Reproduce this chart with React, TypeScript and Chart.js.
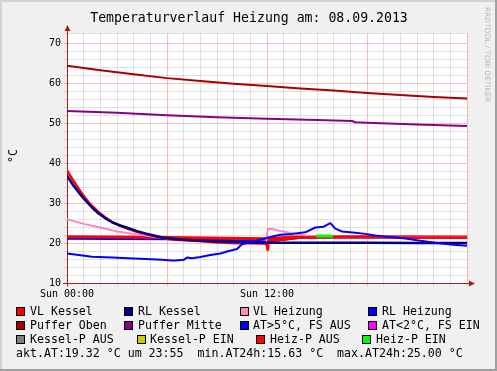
import React, { useEffect, useRef } from 'react';
import { Chart, registerables } from 'chart.js';

Chart.register(...registerables);

const W = 497;
const H = 371;
const MONO = '"DejaVu Sans Mono", monospace';

const TITLE = 'Temperaturverlauf Heizung am: 08.09.2013';
const Y_LABEL = '°C';
const WATERMARK = 'RRDTOOL / TOBI OETIKER';
const X_TICK_LABELS: Record<number, string> = { 0: 'Sun 00:00', 12: 'Sun 12:00' };

// Series (hours since 00:00, °C)
const pufferObenT = [0, 2, 4, 6, 8, 10, 12, 14, 16, 18, 20, 22, 24];
const pufferObenV = [64.4, 63.3, 62.3, 61.3, 60.6, 59.9, 59.3, 58.7, 58.2, 57.6, 57.1, 56.6, 56.2];

const pufferMitteT = [0, 3, 6, 9, 12, 15, 17.1, 17.3, 18, 21, 24];
const pufferMitteV = [53.1, 52.6, 52.0, 51.5, 51.1, 50.8, 50.55, 50.25, 50.15, 49.7, 49.3];

const vlKesselT = [0, 0.35, 0.7, 1.0, 1.3, 1.6, 1.9, 2.3, 2.7, 3.2, 3.7, 4.2, 4.7, 5.2, 5.7, 6.3, 7, 8, 9, 10, 11, 11.95, 12.05, 12.12, 12.25, 12.6, 13, 14, 16, 18, 20, 22, 24];
const vlKesselV = [38.2, 35.8, 33.6, 31.8, 30.2, 28.9, 27.7, 26.4, 25.3, 24.3, 23.5, 22.8, 22.3, 21.8, 21.3, 20.9, 20.7, 20.5, 20.2, 20.0, 20.0, 19.9, 18.3, 21.3, 20.7, 20.7, 20.9, 21.4, 21.5, 21.5, 21.4, 21.4, 21.4];

const rlKesselT = [0, 0.35, 0.7, 1.0, 1.3, 1.6, 1.9, 2.3, 2.7, 3.2, 3.7, 4.2, 4.7, 5.2, 5.7, 6.5, 7.5, 9, 10.5, 12, 15, 18, 21, 24];
const rlKesselV = [36.9, 34.6, 32.7, 31.2, 29.8, 28.5, 27.4, 26.2, 25.2, 24.4, 23.7, 23.0, 22.4, 21.9, 21.4, 21.0, 20.7, 20.4, 20.2, 20.1, 20.1, 20.05, 20.0, 20.0];

const vlHeizungT = [0, 1, 2, 3, 4, 5, 6, 7, 8, 9, 10, 11, 11.95, 12.05, 12.3, 12.6, 13.4, 14.5, 16, 20, 24];
const vlHeizungV = [26.0, 24.8, 23.9, 22.9, 22.3, 21.7, 21.2, 20.8, 20.4, 20.1, 19.9, 19.8, 19.8, 23.6, 23.5, 23.2, 22.5, 21.8, 21.6, 21.5, 21.5];

const rlHeizungT = [0, 3, 6, 8, 10, 11.5, 12, 13, 14, 16, 20, 24];
const rlHeizungV = [21.05, 21.0, 20.95, 20.9, 20.7, 20.5, 20.4, 20.8, 21.3, 21.4, 21.4, 21.4];

const atT = [0, 0.7, 1.5, 2.7, 3.7, 4.7, 5.7, 6.3, 6.5, 7.0, 7.2, 7.5, 8.0, 8.6, 9.2, 9.6, 10.2, 10.5, 11.0, 11.5, 12.0, 12.4, 12.8, 13.5, 14.3, 14.9, 15.4, 15.8, 16.1, 16.5, 17.3, 17.9, 18.5, 19.2, 20.2, 21.2, 22.2, 23.2, 24];
const atV = [17.4, 17.0, 16.6, 16.4, 16.2, 16.0, 15.8, 15.65, 15.63, 15.8, 16.4, 16.2, 16.5, 17.0, 17.4, 17.9, 18.5, 19.7, 20.2, 20.7, 21.3, 21.7, 22.1, 22.3, 22.7, 23.9, 24.1, 25.0, 23.6, 22.9, 22.6, 22.3, 21.9, 21.6, 21.2, 20.6, 20.0, 19.6, 19.32];

const heizPAusT = [0, 5, 12, 13.5, 18, 24];
const heizPAusV = [21.6, 21.45, 21.1, 21.5, 21.6, 21.5];

const heizPEinT = [14.96, 15.96];
const heizPEinV = [21.75, 21.75];

// Legend
const legendRows: { x: number; tx: number; color: string; label: string }[][] = [
  [
    { x: 16, tx: 30, color: '#ff0000', label: 'VL Kessel' },
    { x: 124, tx: 138, color: '#000080', label: 'RL Kessel' },
    { x: 240, tx: 253, color: '#ff88bb', label: 'VL Heizung' },
    { x: 368, tx: 382, color: '#0000ff', label: 'RL Heizung' },
  ],
  [
    { x: 16, tx: 30, color: '#aa0000', label: 'Puffer Oben' },
    { x: 124, tx: 138, color: '#880088', label: 'Puffer Mitte' },
    { x: 240, tx: 253, color: '#0000ff', label: 'AT>5°C, FS AUS' },
    { x: 368, tx: 382, color: '#ff00ff', label: 'AT<2°C, FS EIN' },
  ],
  [
    { x: 16, tx: 30, color: '#808080', label: 'Kessel-P AUS' },
    { x: 137, tx: 150, color: '#cccc00', label: 'Kessel-P EIN' },
    { x: 256, tx: 270, color: '#ff0000', label: 'Heiz-P AUS' },
    { x: 362, tx: 376, color: '#00ff00', label: 'Heiz-P EIN' },
  ],
];
const STATS_LINE = 'akt.AT:19.32 °C um 23:55  min.AT24h:15.63 °C  max.AT24h:25.00 °C';

const pts = (t: number[], v: number[]) => t.map((x, i) => ({ x, y: v[i] }));

const MAJOR = 'rgba(255,0,0,0.25)';
const MINOR = 'rgba(128,128,128,0.24)';
const AXIS = '#992222';

const deco = {
  id: 'deco',
  beforeDraw(chart: any) {
    const ctx = chart.ctx as CanvasRenderingContext2D;
    const { left, top, right, bottom } = chart.chartArea;
    ctx.save();
    ctx.fillStyle = '#f0f0f0';
    ctx.fillRect(0, 0, W, H);
    ctx.fillStyle = '#d2d2d2';
    ctx.fillRect(0, 0, W, 2);
    ctx.fillRect(0, 0, 2, H);
    ctx.fillStyle = '#a0a0a0';
    ctx.fillRect(0, H - 2, W, 2);
    ctx.fillRect(W - 2, 0, 2, H);
    ctx.fillStyle = '#ffffff';
    ctx.fillRect(left, top, right - left, bottom - top);
    ctx.restore();
  },
  beforeDatasetsDraw(chart: any) {
    const ctx = chart.ctx as CanvasRenderingContext2D;
    const { left, right, bottom, top } = chart.chartArea;
    ctx.save();
    ctx.strokeStyle = AXIS;
    ctx.fillStyle = AXIS;
    ctx.lineWidth = 1;
    const ax = Math.round(left) + 0.5;
    const ay = Math.round(bottom) + 0.5;
    ctx.beginPath();
    ctx.moveTo(ax, ay + 3);
    ctx.lineTo(ax, top - 4);
    ctx.moveTo(left - 4, ay);
    ctx.lineTo(right + 4, ay);
    ctx.stroke();
    ctx.beginPath();
    ctx.moveTo(ax, top - 8);
    ctx.lineTo(ax - 3, top - 2);
    ctx.lineTo(ax + 3, top - 2);
    ctx.closePath();
    ctx.fill();
    ctx.beginPath();
    ctx.moveTo(right + 8, ay);
    ctx.lineTo(right + 2, ay - 3);
    ctx.lineTo(right + 2, ay + 3);
    ctx.closePath();
    ctx.fill();
    ctx.restore();
  },
  afterDraw(chart: any) {
    const ctx = chart.ctx as CanvasRenderingContext2D;
    ctx.save();
    // title
    ctx.fillStyle = '#000';
    ctx.font = `13.2px ${MONO}`;
    ctx.textAlign = 'center';
    ctx.textBaseline = 'alphabetic';
    ctx.fillText(TITLE, 249, 21.5);
    // y label
    ctx.save();
    ctx.translate(14, 156);
    ctx.rotate(-Math.PI / 2);
    ctx.font = `11.6px ${MONO}`;
    ctx.textBaseline = 'middle';
    ctx.fillText(Y_LABEL, 0, 0);
    ctx.restore();
    // watermark
    ctx.save();
    ctx.translate(484.5, 7);
    ctx.rotate(Math.PI / 2);
    ctx.fillStyle = '#b8b8b8';
    ctx.font = `7.4px "DejaVu Sans", sans-serif`;
    ctx.textAlign = 'left';
    ctx.textBaseline = 'alphabetic';
    ctx.fillText(WATERMARK, 0, 0);
    ctx.restore();
    // legend
    ctx.font = `11.6px ${MONO}`;
    ctx.textAlign = 'left';
    ctx.textBaseline = 'alphabetic';
    legendRows.forEach((row, r) => {
      const base = 315 + r * 14;
      row.forEach((e) => {
        ctx.fillStyle = e.color;
        ctx.fillRect(e.x, base - 8, 9, 9);
        ctx.strokeStyle = '#000';
        ctx.lineWidth = 1;
        ctx.strokeRect(e.x + 0.5, base - 7.5, 8, 8);
        ctx.fillStyle = '#000';
        ctx.fillText(e.label, e.tx, base);
      });
    });
    ctx.fillStyle = '#000';
    ctx.fillText(STATS_LINE, 16, 357);
    ctx.restore();
  },
};

export default function App() {
  const ref = useRef<HTMLCanvasElement>(null);
  useEffect(() => {
    document.body.style.margin = '0';
    const line = (label: string, t: number[], v: number[], color: string, width: number, order: number) => ({
      label,
      data: pts(t, v),
      borderColor: color,
      backgroundColor: color,
      borderWidth: width,
      pointRadius: 0,
      tension: 0,
      fill: false,
      order,
      borderJoinStyle: 'round' as const,
    });
    const chart = new Chart(ref.current!, {
      type: 'line',
      data: {
        datasets: [
          line('AT', atT, atV, '#0000ff', 2, 1),
          line('Heiz-P EIN', heizPEinT, heizPEinV, '#00ff00', 3, 2),
          line('RL Kessel', rlKesselT, rlKesselV, '#000080', 2.5, 3),
          line('VL Kessel', vlKesselT, vlKesselV, '#ff0000', 2.5, 4),
          line('VL Heizung', vlHeizungT, vlHeizungV, '#ff88bb', 2, 5),
          line('Heiz-P AUS', heizPAusT, heizPAusV, '#ff0000', 3, 6),
          line('RL Heizung', rlHeizungT, rlHeizungV, '#0000ff', 2, 7),
          line('Puffer Mitte', pufferMitteT, pufferMitteV, '#880088', 2, 8),
          line('Puffer Oben', pufferObenT, pufferObenV, '#aa0000', 2, 9),
        ] as any,
      },
      options: {
        responsive: false,
        animation: false,
        devicePixelRatio: 1,
        layout: { padding: { left: 0, right: 30, top: 33, bottom: 0 } },
        plugins: { legend: { display: false }, tooltip: { enabled: false }, title: { display: false } },
        scales: {
          x: {
            type: 'linear',
            min: 0,
            max: 24,
            afterFit: (s: any) => { s.height = 88; },
            border: { display: false },
            grid: {
              color: (c: any) => (c.tick && c.tick.value % 6 === 0 ? MAJOR : MINOR),
              tickLength: 3,
              lineWidth: 1,
            },
            ticks: {
              stepSize: 1,
              autoSkip: false,
              maxRotation: 0,
              padding: 2,
              color: '#000',
              font: { family: MONO, size: 10 },
              callback: (v: any) => X_TICK_LABELS[v as number] ?? '',
            },
          },
          y: {
            min: 10,
            max: 72.6,
            afterFit: (s: any) => { s.width = 67; },
            border: { display: false },
            grid: {
              color: (c: any) => (c.tick && c.tick.value % 10 === 0 ? MAJOR : MINOR),
              tickLength: 3,
              lineWidth: 1,
            },
            ticks: {
              stepSize: 2,
              autoSkip: false,
              padding: 3,
              color: '#000',
              font: { family: MONO, size: 10 },
              callback: (v: any) => ((v as number) % 10 === 0 ? String(v) : ''),
            },
          },
        },
      },
      plugins: [deco],
    });
    return () => chart.destroy();
  }, []);
  return <canvas ref={ref} width={W} height={H} style={{ display: 'block', width: W, height: H }} />;
}
